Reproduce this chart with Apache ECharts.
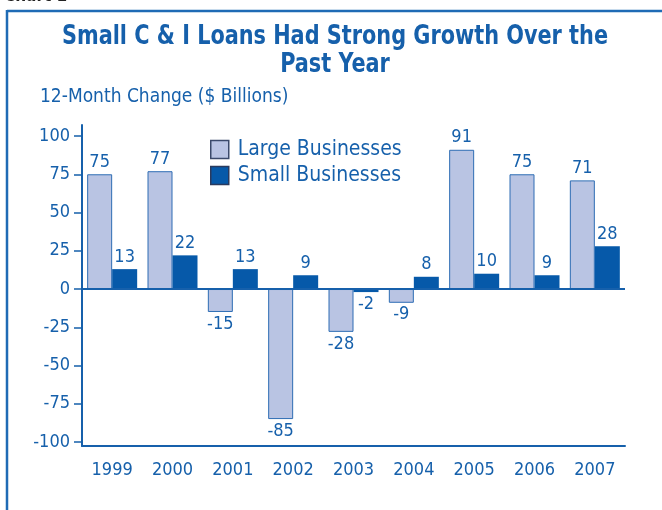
<!DOCTYPE html>
<html>
<head>
<meta charset="utf-8">
<script src="https://cdn.jsdelivr.net/npm/echarts@6/dist/echarts.min.js"></script>
<style>
html,body{margin:0;padding:0;background:#fff;}
#chart{width:662px;height:510px;}
</style>
</head>
<body>
<div id="chart"></div>
<script>
const categories = ['1999','2000','2001','2002','2003','2004','2005','2006','2007'];
const largeBusinesses = [75, 77, -15, -85, -28, -9, 91, 75, 71];
const smallBusinesses = [13, 22, 13, 9, -2, 8, 10, 9, 28];
const yTicks = [-100, -75, -50, -25, 0, 25, 50, 75, 100];

const FONT = '"Liberation Sans Narrow", "DejaVu Sans Condensed", "Arial Narrow", sans-serif';
const BLUE = '#1660AB';
const DARK = '#0659A9';
const LIGHT = '#B9C4E3';

function withLabels(arr) {
  return arr.map(v => ({
    value: v,
    label: { position: v >= 0 ? 'top' : 'bottom' }
  }));
}

const chart = echarts.init(document.getElementById('chart'));
chart.setOption({
  backgroundColor: '#fff',
  animation: false,
  textStyle: { fontFamily: FONT },
  graphic: [
    { type: 'text', left: 4, top: -12, style: { text: 'Chart 1', fill: '#222', font: 'bold 17px ' + FONT } },
    { type: 'line', shape: { x1: 7, y1: 11, x2: 662, y2: 11 }, style: { stroke: '#1F6BB5', lineWidth: 2.5 } },
    { type: 'line', shape: { x1: 7, y1: 10, x2: 7, y2: 510 }, style: { stroke: '#1F6BB5', lineWidth: 2.5 } },
    { type: 'text', x: 335, y: 23, scaleX: 0.857,
      style: { text: 'Small C & I Loans Had Strong Growth Over the', fill: BLUE, align: 'center',
               font: 'bold 27px ' + FONT } },
    { type: 'text', x: 335, y: 51, scaleX: 0.857,
      style: { text: 'Past Year', fill: BLUE, align: 'center', font: 'bold 27px ' + FONT } },
    { type: 'text', left: 40, top: 88, style: { text: '12-Month Change ($ Billions)', fill: BLUE, font: '19px ' + FONT } }
  ],
  legend: {
    orient: 'vertical',
    left: 205, top: 134,
    itemWidth: 18, itemHeight: 18, itemGap: 5,
    icon: 'rect',
    textStyle: { color: BLUE, fontSize: 21, lineHeight: 19, fontFamily: FONT, padding: [0, 0, 0, 4] },
    data: [
      { name: 'Large Businesses', itemStyle: { color: LIGHT, borderColor: '#3B4A6B', borderWidth: 1.5 } },
      { name: 'Small Businesses', itemStyle: { color: DARK, borderColor: '#2A3A5E', borderWidth: 1.5 } }
    ]
  },
  grid: { left: 82, right: 37, top: 125, bottom: 64, containLabel: false },
  xAxis: {
    type: 'category',
    data: categories,
    axisLine: { onZero: false, lineStyle: { color: BLUE, width: 2 } },
    axisTick: { alignWithLabel: true, length: 6, lineStyle: { color: '#6E9BD2', width: 1.5 } },
    axisLabel: { color: BLUE, fontSize: 18, fontFamily: FONT, margin: 15 }
  },
  yAxis: {
    type: 'value',
    min: -102.6, max: 107.2,
    splitLine: { show: false },
    axisLine: { show: true, lineStyle: { color: BLUE, width: 2 } },
    axisTick: { show: true, length: 8, customValues: yTicks, lineStyle: { color: BLUE, width: 1.5 } },
    axisLabel: { customValues: yTicks, color: BLUE, fontSize: 18, fontFamily: FONT, margin: 12 }
  },
  series: [
    {
      name: 'Large Businesses', type: 'bar',
      data: withLabels(largeBusinesses),
      barWidth: 25, barGap: '0%',
      itemStyle: { color: LIGHT, borderColor: '#2E6DB4', borderWidth: 1 },
      label: { show: true, color: BLUE, fontSize: 18, fontFamily: FONT, distance: 3 },
      markLine: {
        silent: true, symbol: 'none',
        label: { show: false },
        lineStyle: { color: BLUE, width: 2, type: 'solid' },
        data: [{ yAxis: 0 }]
      }
    },
    {
      name: 'Small Businesses', type: 'bar',
      data: withLabels(smallBusinesses),
      barWidth: 25, barGap: '0%',
      itemStyle: { color: DARK },
      label: { show: true, color: BLUE, fontSize: 18, fontFamily: FONT, distance: 3 }
    }
  ]
});
</script>
</body>
</html>
